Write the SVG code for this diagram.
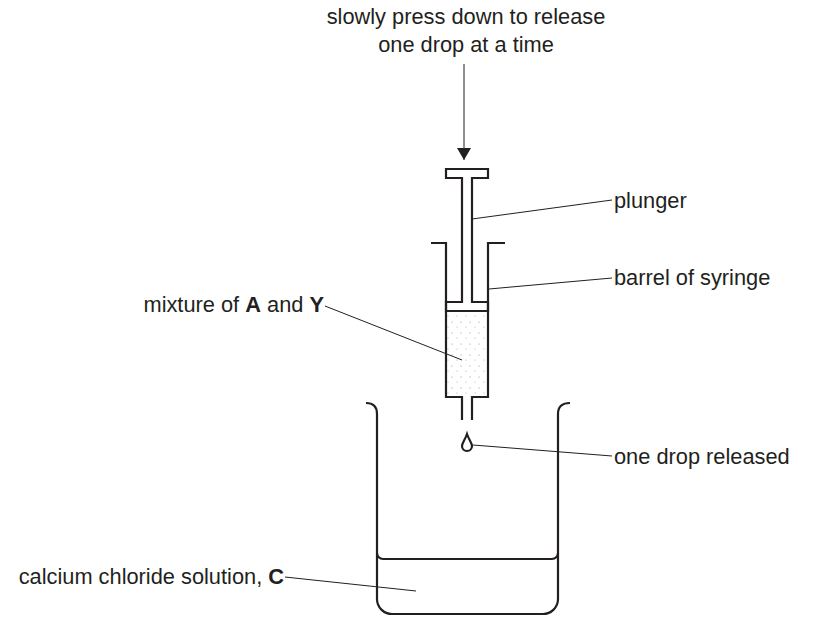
<svg xmlns="http://www.w3.org/2000/svg" width="822" height="641" viewBox="0 0 822 641">
<style>
.s{fill:none;stroke:#231f20;stroke-width:2.2}
.l{fill:none;stroke:#231f20;stroke-width:1}
text{font-family:"Liberation Sans",Arial,sans-serif;font-size:21.8px;fill:#231f20}
</style>
<defs>
<pattern id="dots" width="9" height="11" patternUnits="userSpaceOnUse">
<circle cx="2" cy="3" r="0.5" fill="#777"/><circle cx="7" cy="8" r="0.5" fill="#999"/>
</pattern>
<marker id="ah" viewBox="0 0 12 22" refX="12" refY="11" markerWidth="12" markerHeight="22" markerUnits="userSpaceOnUse" orient="auto"><path d="M0,4 L12,11 L0,18 z" fill="#231f20"/></marker>
</defs>
<rect width="822" height="641" fill="#fff"/>
<g id="syringe">
<rect x="447" y="311" width="41" height="86" fill="url(#dots)"/>
<path class="s" d="M446,169 H488 V178 H472 V302 H488 V311 H446 V302 H462 V178 H446 Z"/>
<path class="s" d="M431,243 H446 V397 H462 V420 M472,420 V397 H488 V243 H505"/>
</g>
<g id="drop"><path class="s" stroke-width="1.5" d="M467,434 C465,440 462,443 462,446 A5,5 0 0 0 472,446 C472,443 469,440 467,434 Z"/></g>
<g id="beaker">
<path class="s" d="M366,403 C372,403 377,406 377,414 V599 A15,15 0 0 0 392,614 H543 A15,15 0 0 0 558,599 V414 C558,406 563,403 570,403"/>
<path class="s" d="M377,553 A6,6 0 0 0 383,559 H552 A6,6 0 0 0 558,553"/>
</g>
<g id="connectors">
<line class="l" x1="464" y1="64" x2="464" y2="160" stroke-width="2" marker-end="url(#ah)"/>
<line class="l" x1="472" y1="219" x2="612" y2="200"/>
<line class="l" x1="489" y1="289" x2="612" y2="278"/>
<line class="l" x1="325" y1="306" x2="462" y2="360"/>
<line class="l" x1="473" y1="445" x2="612" y2="456"/>
<line class="l" x1="285" y1="577" x2="416" y2="591"/>
</g>
<g id="labels">
<text x="466" y="24" text-anchor="middle">slowly press down to release</text>
<text x="466" y="52" text-anchor="middle">one drop at a time</text>
<text x="614" y="208">plunger</text>
<text x="614" y="285">barrel of syringe</text>
<text x="614" y="464">one drop released</text>
<text x="324" y="312" text-anchor="end">mixture of <tspan font-weight="bold">A</tspan> and <tspan font-weight="bold">Y</tspan></text>
<text x="284" y="584" text-anchor="end">calcium chloride solution, <tspan font-weight="bold">C</tspan></text>
</g>
</svg>
